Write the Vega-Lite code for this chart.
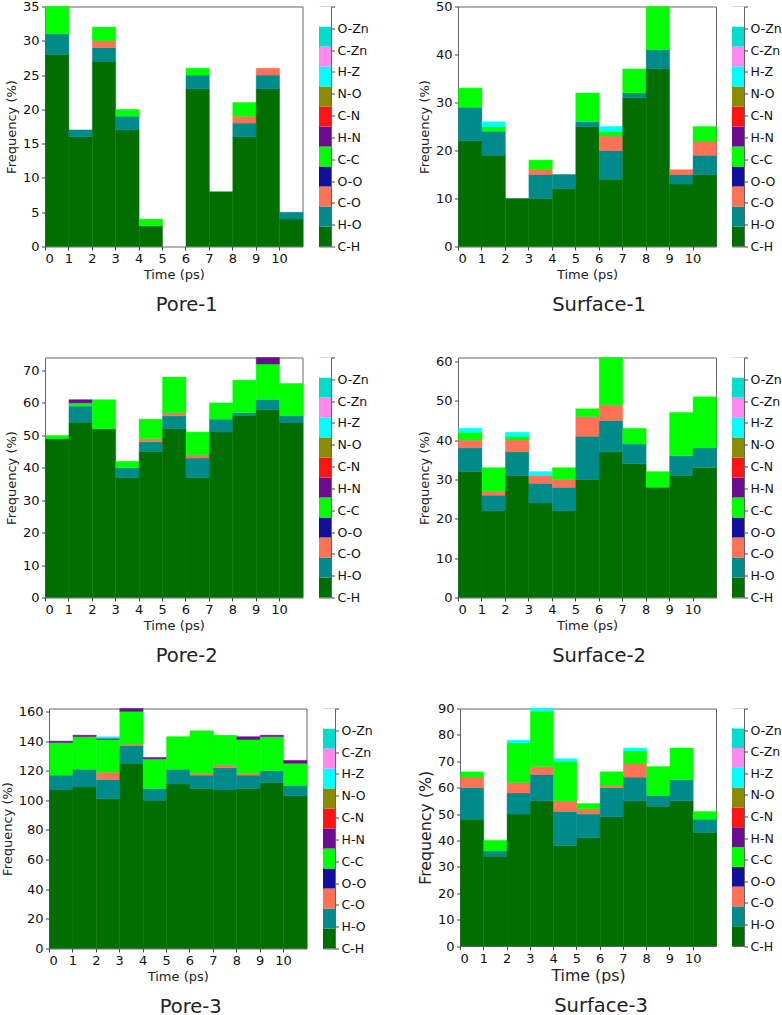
{
  "$schema": "https://vega.github.io/schema/vega-lite/v6.json",
  "background": "white",
  "padding": {"left": 0, "top": -0.5, "right": 0, "bottom": 0},
  "config": {
    "font": "DejaVu Sans",
    "view": {"stroke": "#666666", "strokeWidth": 1},
    "axis": {"grid": false, "domain": false, "tickColor": "#444444", "tickSize": 3.5, "labelFontSize": 13, "titleFontSize": 13, "labelColor": "#111111", "titleColor": "#222222", "titleFontWeight": "normal", "labelPadding": 2.5, "labelFont": "DejaVu Sans", "titleFont": "DejaVu Sans"},
    "bar": {"binSpacing": 0, "stroke": {"expr": "scale('color', datum.bond)"}, "strokeWidth": 0.4}
  },
  "datasets": {
    "bonds": [
      {"bond": "C-H"}, {"bond": "H-O"}, {"bond": "C-O"}, {"bond": "O-O"}, {"bond": "C-C"}, {"bond": "H-N"},
      {"bond": "C-N"}, {"bond": "N-O"}, {"bond": "H-Z"}, {"bond": "C-Zn"}, {"bond": "O-Zn"}, {"bond": " "}
    ],
    "pore1": [
      {"t":0,"t_end":1,"bond":"C-H","k":0,"n":28},{"t":0,"t_end":1,"bond":"H-O","k":1,"n":3},{"t":0,"t_end":1,"bond":"C-C","k":4,"n":4},
      {"t":1,"t_end":2,"bond":"C-H","k":0,"n":16},{"t":1,"t_end":2,"bond":"H-O","k":1,"n":1},
      {"t":2,"t_end":3,"bond":"C-H","k":0,"n":27},{"t":2,"t_end":3,"bond":"H-O","k":1,"n":2},{"t":2,"t_end":3,"bond":"C-O","k":2,"n":1},{"t":2,"t_end":3,"bond":"C-C","k":4,"n":2},
      {"t":3,"t_end":4,"bond":"C-H","k":0,"n":17},{"t":3,"t_end":4,"bond":"H-O","k":1,"n":2},{"t":3,"t_end":4,"bond":"C-C","k":4,"n":1},
      {"t":4,"t_end":5,"bond":"C-H","k":0,"n":3},{"t":4,"t_end":5,"bond":"C-C","k":4,"n":1},
      {"t":6,"t_end":7,"bond":"C-H","k":0,"n":23},{"t":6,"t_end":7,"bond":"H-O","k":1,"n":2},{"t":6,"t_end":7,"bond":"C-C","k":4,"n":1},
      {"t":7,"t_end":8,"bond":"C-H","k":0,"n":8},
      {"t":8,"t_end":9,"bond":"C-H","k":0,"n":16},{"t":8,"t_end":9,"bond":"H-O","k":1,"n":2},{"t":8,"t_end":9,"bond":"C-O","k":2,"n":1},{"t":8,"t_end":9,"bond":"C-C","k":4,"n":2},
      {"t":9,"t_end":10,"bond":"C-H","k":0,"n":23},{"t":9,"t_end":10,"bond":"H-O","k":1,"n":2},{"t":9,"t_end":10,"bond":"C-O","k":2,"n":1},
      {"t":10,"t_end":11,"bond":"C-H","k":0,"n":4},{"t":10,"t_end":11,"bond":"H-O","k":1,"n":1}
    ],
    "surface1": [
      {"t":0,"t_end":1,"bond":"C-H","k":0,"n":22},{"t":0,"t_end":1,"bond":"H-O","k":1,"n":7},{"t":0,"t_end":1,"bond":"C-C","k":4,"n":4},
      {"t":1,"t_end":2,"bond":"C-H","k":0,"n":19},{"t":1,"t_end":2,"bond":"H-O","k":1,"n":5},{"t":1,"t_end":2,"bond":"C-C","k":4,"n":1},{"t":1,"t_end":2,"bond":"H-Z","k":8,"n":1},
      {"t":2,"t_end":3,"bond":"C-H","k":0,"n":10},
      {"t":3,"t_end":4,"bond":"C-H","k":0,"n":10},{"t":3,"t_end":4,"bond":"H-O","k":1,"n":5},{"t":3,"t_end":4,"bond":"C-O","k":2,"n":1},{"t":3,"t_end":4,"bond":"C-C","k":4,"n":2},
      {"t":4,"t_end":5,"bond":"C-H","k":0,"n":12},{"t":4,"t_end":5,"bond":"H-O","k":1,"n":3},
      {"t":5,"t_end":6,"bond":"C-H","k":0,"n":25},{"t":5,"t_end":6,"bond":"H-O","k":1,"n":1},{"t":5,"t_end":6,"bond":"C-C","k":4,"n":6},
      {"t":6,"t_end":7,"bond":"C-H","k":0,"n":14},{"t":6,"t_end":7,"bond":"H-O","k":1,"n":6},{"t":6,"t_end":7,"bond":"C-O","k":2,"n":3},{"t":6,"t_end":7,"bond":"C-C","k":4,"n":1},{"t":6,"t_end":7,"bond":"H-Z","k":8,"n":1},
      {"t":7,"t_end":8,"bond":"C-H","k":0,"n":31},{"t":7,"t_end":8,"bond":"H-O","k":1,"n":1},{"t":7,"t_end":8,"bond":"C-C","k":4,"n":5},
      {"t":8,"t_end":9,"bond":"C-H","k":0,"n":37},{"t":8,"t_end":9,"bond":"H-O","k":1,"n":4},{"t":8,"t_end":9,"bond":"C-C","k":4,"n":9},
      {"t":9,"t_end":10,"bond":"C-H","k":0,"n":13},{"t":9,"t_end":10,"bond":"H-O","k":1,"n":2},{"t":9,"t_end":10,"bond":"C-O","k":2,"n":1},
      {"t":10,"t_end":11,"bond":"C-H","k":0,"n":15},{"t":10,"t_end":11,"bond":"H-O","k":1,"n":4},{"t":10,"t_end":11,"bond":"C-O","k":2,"n":3},{"t":10,"t_end":11,"bond":"C-C","k":4,"n":3}
    ],
    "pore2": [
      {"t":0,"t_end":1,"bond":"C-H","k":0,"n":49},{"t":0,"t_end":1,"bond":"C-C","k":4,"n":1},
      {"t":1,"t_end":2,"bond":"C-H","k":0,"n":54},{"t":1,"t_end":2,"bond":"H-O","k":1,"n":5},{"t":1,"t_end":2,"bond":"C-C","k":4,"n":1},{"t":1,"t_end":2,"bond":"H-N","k":5,"n":1},
      {"t":2,"t_end":3,"bond":"C-H","k":0,"n":52},{"t":2,"t_end":3,"bond":"C-C","k":4,"n":9},
      {"t":3,"t_end":4,"bond":"C-H","k":0,"n":37},{"t":3,"t_end":4,"bond":"H-O","k":1,"n":3},{"t":3,"t_end":4,"bond":"C-C","k":4,"n":2},
      {"t":4,"t_end":5,"bond":"C-H","k":0,"n":45},{"t":4,"t_end":5,"bond":"H-O","k":1,"n":3},{"t":4,"t_end":5,"bond":"C-O","k":2,"n":1},{"t":4,"t_end":5,"bond":"C-C","k":4,"n":6},
      {"t":5,"t_end":6,"bond":"C-H","k":0,"n":52},{"t":5,"t_end":6,"bond":"H-O","k":1,"n":4},{"t":5,"t_end":6,"bond":"C-O","k":2,"n":1},{"t":5,"t_end":6,"bond":"C-C","k":4,"n":11},
      {"t":6,"t_end":7,"bond":"C-H","k":0,"n":37},{"t":6,"t_end":7,"bond":"H-O","k":1,"n":6},{"t":6,"t_end":7,"bond":"C-O","k":2,"n":1},{"t":6,"t_end":7,"bond":"C-C","k":4,"n":7},
      {"t":7,"t_end":8,"bond":"C-H","k":0,"n":51},{"t":7,"t_end":8,"bond":"H-O","k":1,"n":4},{"t":7,"t_end":8,"bond":"C-C","k":4,"n":5},
      {"t":8,"t_end":9,"bond":"C-H","k":0,"n":56},{"t":8,"t_end":9,"bond":"H-O","k":1,"n":1},{"t":8,"t_end":9,"bond":"C-C","k":4,"n":10},
      {"t":9,"t_end":10,"bond":"C-H","k":0,"n":58},{"t":9,"t_end":10,"bond":"H-O","k":1,"n":3},{"t":9,"t_end":10,"bond":"C-C","k":4,"n":11},{"t":9,"t_end":10,"bond":"H-N","k":5,"n":2},
      {"t":10,"t_end":11,"bond":"C-H","k":0,"n":54},{"t":10,"t_end":11,"bond":"H-O","k":1,"n":2},{"t":10,"t_end":11,"bond":"C-C","k":4,"n":10}
    ],
    "surface2": [
      {"t":0,"t_end":1,"bond":"C-H","k":0,"n":32},{"t":0,"t_end":1,"bond":"H-O","k":1,"n":6},{"t":0,"t_end":1,"bond":"C-O","k":2,"n":2},{"t":0,"t_end":1,"bond":"C-C","k":4,"n":2},{"t":0,"t_end":1,"bond":"H-Z","k":8,"n":1},
      {"t":1,"t_end":2,"bond":"C-H","k":0,"n":22},{"t":1,"t_end":2,"bond":"H-O","k":1,"n":4},{"t":1,"t_end":2,"bond":"C-O","k":2,"n":1},{"t":1,"t_end":2,"bond":"C-C","k":4,"n":6},
      {"t":2,"t_end":3,"bond":"C-H","k":0,"n":31},{"t":2,"t_end":3,"bond":"H-O","k":1,"n":6},{"t":2,"t_end":3,"bond":"C-O","k":2,"n":3},{"t":2,"t_end":3,"bond":"C-C","k":4,"n":1},{"t":2,"t_end":3,"bond":"H-Z","k":8,"n":1},
      {"t":3,"t_end":4,"bond":"C-H","k":0,"n":24},{"t":3,"t_end":4,"bond":"H-O","k":1,"n":5},{"t":3,"t_end":4,"bond":"C-O","k":2,"n":2},{"t":3,"t_end":4,"bond":"H-Z","k":8,"n":1},
      {"t":4,"t_end":5,"bond":"C-H","k":0,"n":22},{"t":4,"t_end":5,"bond":"H-O","k":1,"n":6},{"t":4,"t_end":5,"bond":"C-O","k":2,"n":2},{"t":4,"t_end":5,"bond":"C-C","k":4,"n":3},
      {"t":5,"t_end":6,"bond":"C-H","k":0,"n":30},{"t":5,"t_end":6,"bond":"H-O","k":1,"n":11},{"t":5,"t_end":6,"bond":"C-O","k":2,"n":5},{"t":5,"t_end":6,"bond":"C-C","k":4,"n":2},
      {"t":6,"t_end":7,"bond":"C-H","k":0,"n":37},{"t":6,"t_end":7,"bond":"H-O","k":1,"n":8},{"t":6,"t_end":7,"bond":"C-O","k":2,"n":4},{"t":6,"t_end":7,"bond":"C-C","k":4,"n":12},
      {"t":7,"t_end":8,"bond":"C-H","k":0,"n":34},{"t":7,"t_end":8,"bond":"H-O","k":1,"n":5},{"t":7,"t_end":8,"bond":"C-C","k":4,"n":4},
      {"t":8,"t_end":9,"bond":"C-H","k":0,"n":28},{"t":8,"t_end":9,"bond":"C-C","k":4,"n":4},
      {"t":9,"t_end":10,"bond":"C-H","k":0,"n":31},{"t":9,"t_end":10,"bond":"H-O","k":1,"n":5},{"t":9,"t_end":10,"bond":"C-C","k":4,"n":11},
      {"t":10,"t_end":11,"bond":"C-H","k":0,"n":33},{"t":10,"t_end":11,"bond":"H-O","k":1,"n":5},{"t":10,"t_end":11,"bond":"C-C","k":4,"n":13}
    ],
    "pore3": [
      {"t":0,"t_end":1,"bond":"C-H","k":0,"n":107},{"t":0,"t_end":1,"bond":"H-O","k":1,"n":10},{"t":0,"t_end":1,"bond":"C-C","k":4,"n":22},{"t":0,"t_end":1,"bond":"H-N","k":5,"n":1},
      {"t":1,"t_end":2,"bond":"C-H","k":0,"n":109},{"t":1,"t_end":2,"bond":"H-O","k":1,"n":12},{"t":1,"t_end":2,"bond":"C-C","k":4,"n":22},{"t":1,"t_end":2,"bond":"H-N","k":5,"n":1},
      {"t":2,"t_end":3,"bond":"C-H","k":0,"n":101},{"t":2,"t_end":3,"bond":"H-O","k":1,"n":13},{"t":2,"t_end":3,"bond":"C-O","k":2,"n":5},{"t":2,"t_end":3,"bond":"C-C","k":4,"n":22},{"t":2,"t_end":3,"bond":"H-N","k":5,"n":1},{"t":2,"t_end":3,"bond":"H-Z","k":8,"n":1},
      {"t":3,"t_end":4,"bond":"C-H","k":0,"n":125},{"t":3,"t_end":4,"bond":"H-O","k":1,"n":12},{"t":3,"t_end":4,"bond":"C-O","k":2,"n":1},{"t":3,"t_end":4,"bond":"C-C","k":4,"n":22},{"t":3,"t_end":4,"bond":"H-N","k":5,"n":2},
      {"t":4,"t_end":5,"bond":"C-H","k":0,"n":100},{"t":4,"t_end":5,"bond":"H-O","k":1,"n":8},{"t":4,"t_end":5,"bond":"C-C","k":4,"n":20},{"t":4,"t_end":5,"bond":"H-N","k":5,"n":1},
      {"t":5,"t_end":6,"bond":"C-H","k":0,"n":111},{"t":5,"t_end":6,"bond":"H-O","k":1,"n":10},{"t":5,"t_end":6,"bond":"C-C","k":4,"n":22},
      {"t":6,"t_end":7,"bond":"C-H","k":0,"n":108},{"t":6,"t_end":7,"bond":"H-O","k":1,"n":9},{"t":6,"t_end":7,"bond":"C-O","k":2,"n":1},{"t":6,"t_end":7,"bond":"C-C","k":4,"n":29},
      {"t":7,"t_end":8,"bond":"C-H","k":0,"n":107},{"t":7,"t_end":8,"bond":"H-O","k":1,"n":15},{"t":7,"t_end":8,"bond":"C-O","k":2,"n":2},{"t":7,"t_end":8,"bond":"C-C","k":4,"n":20},
      {"t":8,"t_end":9,"bond":"C-H","k":0,"n":108},{"t":8,"t_end":9,"bond":"H-O","k":1,"n":9},{"t":8,"t_end":9,"bond":"C-O","k":2,"n":1},{"t":8,"t_end":9,"bond":"C-C","k":4,"n":23},{"t":8,"t_end":9,"bond":"H-N","k":5,"n":2},
      {"t":9,"t_end":10,"bond":"C-H","k":0,"n":112},{"t":9,"t_end":10,"bond":"H-O","k":1,"n":8},{"t":9,"t_end":10,"bond":"C-C","k":4,"n":23},{"t":9,"t_end":10,"bond":"H-N","k":5,"n":1},
      {"t":10,"t_end":11,"bond":"C-H","k":0,"n":103},{"t":10,"t_end":11,"bond":"H-O","k":1,"n":7},{"t":10,"t_end":11,"bond":"C-C","k":4,"n":15},{"t":10,"t_end":11,"bond":"H-N","k":5,"n":2}
    ],
    "surface3": [
      {"t":0,"t_end":1,"bond":"C-H","k":0,"n":48},{"t":0,"t_end":1,"bond":"H-O","k":1,"n":12},{"t":0,"t_end":1,"bond":"C-O","k":2,"n":4},{"t":0,"t_end":1,"bond":"C-C","k":4,"n":2},
      {"t":1,"t_end":2,"bond":"C-H","k":0,"n":34},{"t":1,"t_end":2,"bond":"H-O","k":1,"n":2},{"t":1,"t_end":2,"bond":"C-C","k":4,"n":4},
      {"t":2,"t_end":3,"bond":"C-H","k":0,"n":50},{"t":2,"t_end":3,"bond":"H-O","k":1,"n":8},{"t":2,"t_end":3,"bond":"C-O","k":2,"n":4},{"t":2,"t_end":3,"bond":"C-C","k":4,"n":15},{"t":2,"t_end":3,"bond":"H-Z","k":8,"n":1},
      {"t":3,"t_end":4,"bond":"C-H","k":0,"n":55},{"t":3,"t_end":4,"bond":"H-O","k":1,"n":10},{"t":3,"t_end":4,"bond":"C-O","k":2,"n":3},{"t":3,"t_end":4,"bond":"C-C","k":4,"n":21},{"t":3,"t_end":4,"bond":"H-Z","k":8,"n":1},
      {"t":4,"t_end":5,"bond":"C-H","k":0,"n":38},{"t":4,"t_end":5,"bond":"H-O","k":1,"n":13},{"t":4,"t_end":5,"bond":"C-O","k":2,"n":4},{"t":4,"t_end":5,"bond":"C-C","k":4,"n":15},{"t":4,"t_end":5,"bond":"H-Z","k":8,"n":1},
      {"t":5,"t_end":6,"bond":"C-H","k":0,"n":41},{"t":5,"t_end":6,"bond":"H-O","k":1,"n":9},{"t":5,"t_end":6,"bond":"C-O","k":2,"n":2},{"t":5,"t_end":6,"bond":"C-C","k":4,"n":2},
      {"t":6,"t_end":7,"bond":"C-H","k":0,"n":49},{"t":6,"t_end":7,"bond":"H-O","k":1,"n":11},{"t":6,"t_end":7,"bond":"C-O","k":2,"n":1},{"t":6,"t_end":7,"bond":"C-C","k":4,"n":5},
      {"t":7,"t_end":8,"bond":"C-H","k":0,"n":55},{"t":7,"t_end":8,"bond":"H-O","k":1,"n":9},{"t":7,"t_end":8,"bond":"C-O","k":2,"n":5},{"t":7,"t_end":8,"bond":"C-C","k":4,"n":5},{"t":7,"t_end":8,"bond":"H-Z","k":8,"n":1},
      {"t":8,"t_end":9,"bond":"C-H","k":0,"n":53},{"t":8,"t_end":9,"bond":"H-O","k":1,"n":4},{"t":8,"t_end":9,"bond":"C-C","k":4,"n":11},
      {"t":9,"t_end":10,"bond":"C-H","k":0,"n":55},{"t":9,"t_end":10,"bond":"H-O","k":1,"n":8},{"t":9,"t_end":10,"bond":"C-C","k":4,"n":12},
      {"t":10,"t_end":11,"bond":"C-H","k":0,"n":43},{"t":10,"t_end":11,"bond":"H-O","k":1,"n":5},{"t":10,"t_end":11,"bond":"C-C","k":4,"n":3}
    ]
  },
  "spacing": 24,
  "vconcat": [
    {
      "bounds": "flush",
      "spacing": 16,
      "hconcat": [
        {"width": 29, "height": 320, "view": {"stroke": null}, "data": {"values": []}, "mark": {"type": "rect", "opacity": 0}, "encoding": {}},
        {
          "width": 257.5, "height": 240,
          "title": {"text": "Pore-1", "orient": "bottom", "fontSize": 19.5, "fontWeight": "normal", "font": "DejaVu Sans", "color": "#222222", "offset": 14, "dx": 13},
          "data": {"name": "pore1"},
          "mark": {"type": "bar"},
          "encoding": {
            "x": {"field": "t", "type": "quantitative", "bin": "binned", "scale": {"domain": [0, 11], "nice": false}, "axis": {"values": [0,1,2,3,4,5,6,7,8,9,10], "title": "Time (ps)", "titlePadding": 3}},
            "x2": {"field": "t_end"},
            "y": {"field": "n", "type": "quantitative", "stack": "zero", "scale": {"domain": [0, 35], "nice": false}, "axis": {"values": [0,5,10,15,20,25,30,35], "title": "Frequency (%)", "titlePadding": 4}},
            "order": {"field": "k"},
            "color": {"field": "bond", "type": "nominal", "legend": null, "scale": {"domain": ["C-H","H-O","C-O","O-O","C-C","H-N","C-N","N-O","H-Z","C-Zn","O-Zn"," "], "range": ["#006e00","#008b8b","#ff7256","#10109a","#00ff00","#6a0d91","#ff1414","#8b8b00","#00ffff","#ff88ee","#00ddcc","#ffffff"]}}
          }
        },
        {
          "width": 12, "height": 240,
          "data": {"name": "bonds"},
          "layer": [
            {"mark": {"type": "rect"}, "encoding": {
              "y": {"field": "bond", "type": "ordinal", "scale": {"type": "band", "domain": [" ","O-Zn","C-Zn","H-Z","N-O","C-N","H-N","C-C","O-O","C-O","H-O","C-H"], "paddingInner": 0, "paddingOuter": 0}, "axis": null},
              "color": {"field": "bond", "type": "nominal", "legend": null, "scale": {"domain": ["C-H","H-O","C-O","O-O","C-C","H-N","C-N","N-O","H-Z","C-Zn","O-Zn"," "], "range": ["#006e00","#008b8b","#ff7256","#10109a","#00ff00","#6a0d91","#ff1414","#8b8b00","#00ffff","#ff88ee","#00ddcc","#ffffff"]}}
            }},
            {"mark": {"type": "point", "opacity": 0}, "encoding": {
              "y": {"field": "bond", "type": "ordinal", "scale": {"type": "point", "domain": [" ","O-Zn","C-Zn","H-Z","N-O","C-N","H-N","C-C","O-O","C-O","H-O","C-H"], "padding": 0}, "axis": {"orient": "right", "title": null, "labelFontSize": 12.5, "labelAngle": 0}}
            }}
          ],
          "resolve": {"scale": {"y": "independent"}}
        },
        {"width": 94.5, "height": 240, "view": {"stroke": null}, "data": {"values": []}, "mark": {"type": "rect", "opacity": 0}, "encoding": {}},
        {
          "width": 258, "height": 240,
          "title": {"text": "Surface-1", "orient": "bottom", "fontSize": 19.5, "fontWeight": "normal", "font": "DejaVu Sans", "color": "#222222", "offset": 14, "dx": 12},
          "data": {"name": "surface1"},
          "mark": {"type": "bar"},
          "encoding": {
            "x": {"field": "t", "type": "quantitative", "bin": "binned", "scale": {"domain": [0, 11], "nice": false}, "axis": {"values": [0,1,2,3,4,5,6,7,8,9,10], "title": "Time (ps)", "titlePadding": 3}},
            "x2": {"field": "t_end"},
            "y": {"field": "n", "type": "quantitative", "stack": "zero", "scale": {"domain": [0, 50], "nice": false}, "axis": {"values": [0,10,20,30,40,50], "title": "Frequency (%)", "titlePadding": 4}},
            "order": {"field": "k"},
            "color": {"field": "bond", "type": "nominal", "legend": null, "scale": {"domain": ["C-H","H-O","C-O","O-O","C-C","H-N","C-N","N-O","H-Z","C-Zn","O-Zn"," "], "range": ["#006e00","#008b8b","#ff7256","#10109a","#00ff00","#6a0d91","#ff1414","#8b8b00","#00ffff","#ff88ee","#00ddcc","#ffffff"]}}
          }
        },
        {
          "width": 12, "height": 240,
          "data": {"name": "bonds"},
          "layer": [
            {"mark": {"type": "rect"}, "encoding": {
              "y": {"field": "bond", "type": "ordinal", "scale": {"type": "band", "domain": [" ","O-Zn","C-Zn","H-Z","N-O","C-N","H-N","C-C","O-O","C-O","H-O","C-H"], "paddingInner": 0, "paddingOuter": 0}, "axis": null},
              "color": {"field": "bond", "type": "nominal", "legend": null, "scale": {"domain": ["C-H","H-O","C-O","O-O","C-C","H-N","C-N","N-O","H-Z","C-Zn","O-Zn"," "], "range": ["#006e00","#008b8b","#ff7256","#10109a","#00ff00","#6a0d91","#ff1414","#8b8b00","#00ffff","#ff88ee","#00ddcc","#ffffff"]}}
            }},
            {"mark": {"type": "point", "opacity": 0}, "encoding": {
              "y": {"field": "bond", "type": "ordinal", "scale": {"type": "point", "domain": [" ","O-Zn","C-Zn","H-Z","N-O","C-N","H-N","C-C","O-O","C-O","H-O","C-H"], "padding": 0}, "axis": {"orient": "right", "title": null, "labelFontSize": 12.5, "labelAngle": 0}}
            }}
          ],
          "resolve": {"scale": {"y": "independent"}}
        }
      ]
    },
    {
      "bounds": "flush",
      "spacing": 16,
      "hconcat": [
        {"width": 29, "height": 320, "view": {"stroke": null}, "data": {"values": []}, "mark": {"type": "rect", "opacity": 0}, "encoding": {}},
        {
          "width": 257.5, "height": 240,
          "title": {"text": "Pore-2", "orient": "bottom", "fontSize": 19.5, "fontWeight": "normal", "font": "DejaVu Sans", "color": "#222222", "offset": 14, "dx": 13},
          "data": {"name": "pore2"},
          "mark": {"type": "bar"},
          "encoding": {
            "x": {"field": "t", "type": "quantitative", "bin": "binned", "scale": {"domain": [0, 11], "nice": false}, "axis": {"values": [0,1,2,3,4,5,6,7,8,9,10], "title": "Time (ps)", "titlePadding": 3}},
            "x2": {"field": "t_end"},
            "y": {"field": "n", "type": "quantitative", "stack": "zero", "scale": {"domain": [0, 74], "nice": false}, "axis": {"values": [0,10,20,30,40,50,60,70], "title": "Frequency (%)", "titlePadding": 4}},
            "order": {"field": "k"},
            "color": {"field": "bond", "type": "nominal", "legend": null, "scale": {"domain": ["C-H","H-O","C-O","O-O","C-C","H-N","C-N","N-O","H-Z","C-Zn","O-Zn"," "], "range": ["#006e00","#008b8b","#ff7256","#10109a","#00ff00","#6a0d91","#ff1414","#8b8b00","#00ffff","#ff88ee","#00ddcc","#ffffff"]}}
          }
        },
        {
          "width": 12, "height": 240,
          "data": {"name": "bonds"},
          "layer": [
            {"mark": {"type": "rect"}, "encoding": {
              "y": {"field": "bond", "type": "ordinal", "scale": {"type": "band", "domain": [" ","O-Zn","C-Zn","H-Z","N-O","C-N","H-N","C-C","O-O","C-O","H-O","C-H"], "paddingInner": 0, "paddingOuter": 0}, "axis": null},
              "color": {"field": "bond", "type": "nominal", "legend": null, "scale": {"domain": ["C-H","H-O","C-O","O-O","C-C","H-N","C-N","N-O","H-Z","C-Zn","O-Zn"," "], "range": ["#006e00","#008b8b","#ff7256","#10109a","#00ff00","#6a0d91","#ff1414","#8b8b00","#00ffff","#ff88ee","#00ddcc","#ffffff"]}}
            }},
            {"mark": {"type": "point", "opacity": 0}, "encoding": {
              "y": {"field": "bond", "type": "ordinal", "scale": {"type": "point", "domain": [" ","O-Zn","C-Zn","H-Z","N-O","C-N","H-N","C-C","O-O","C-O","H-O","C-H"], "padding": 0}, "axis": {"orient": "right", "title": null, "labelFontSize": 12.5, "labelAngle": 0}}
            }}
          ],
          "resolve": {"scale": {"y": "independent"}}
        },
        {"width": 94.5, "height": 240, "view": {"stroke": null}, "data": {"values": []}, "mark": {"type": "rect", "opacity": 0}, "encoding": {}},
        {
          "width": 258, "height": 240,
          "title": {"text": "Surface-2", "orient": "bottom", "fontSize": 19.5, "fontWeight": "normal", "font": "DejaVu Sans", "color": "#222222", "offset": 14, "dx": 12},
          "data": {"name": "surface2"},
          "mark": {"type": "bar"},
          "encoding": {
            "x": {"field": "t", "type": "quantitative", "bin": "binned", "scale": {"domain": [0, 11], "nice": false}, "axis": {"values": [0,1,2,3,4,5,6,7,8,9,10], "title": "Time (ps)", "titlePadding": 3}},
            "x2": {"field": "t_end"},
            "y": {"field": "n", "type": "quantitative", "stack": "zero", "scale": {"domain": [0, 61], "nice": false}, "axis": {"values": [0,10,20,30,40,50,60], "title": "Frequency (%)", "titlePadding": 4}},
            "order": {"field": "k"},
            "color": {"field": "bond", "type": "nominal", "legend": null, "scale": {"domain": ["C-H","H-O","C-O","O-O","C-C","H-N","C-N","N-O","H-Z","C-Zn","O-Zn"," "], "range": ["#006e00","#008b8b","#ff7256","#10109a","#00ff00","#6a0d91","#ff1414","#8b8b00","#00ffff","#ff88ee","#00ddcc","#ffffff"]}}
          }
        },
        {
          "width": 12, "height": 240,
          "data": {"name": "bonds"},
          "layer": [
            {"mark": {"type": "rect"}, "encoding": {
              "y": {"field": "bond", "type": "ordinal", "scale": {"type": "band", "domain": [" ","O-Zn","C-Zn","H-Z","N-O","C-N","H-N","C-C","O-O","C-O","H-O","C-H"], "paddingInner": 0, "paddingOuter": 0}, "axis": null},
              "color": {"field": "bond", "type": "nominal", "legend": null, "scale": {"domain": ["C-H","H-O","C-O","O-O","C-C","H-N","C-N","N-O","H-Z","C-Zn","O-Zn"," "], "range": ["#006e00","#008b8b","#ff7256","#10109a","#00ff00","#6a0d91","#ff1414","#8b8b00","#00ffff","#ff88ee","#00ddcc","#ffffff"]}}
            }},
            {"mark": {"type": "point", "opacity": 0}, "encoding": {
              "y": {"field": "bond", "type": "ordinal", "scale": {"type": "point", "domain": [" ","O-Zn","C-Zn","H-Z","N-O","C-N","H-N","C-C","O-O","C-O","H-O","C-H"], "padding": 0}, "axis": {"orient": "right", "title": null, "labelFontSize": 12.5, "labelAngle": 0}}
            }}
          ],
          "resolve": {"scale": {"y": "independent"}}
        }
      ]
    },
    {
      "bounds": "flush",
      "spacing": 16,
      "hconcat": [
        {"width": 33, "height": 300, "view": {"stroke": null}, "data": {"values": []}, "mark": {"type": "rect", "opacity": 0}, "encoding": {}},
        {
          "width": 257.5, "height": 240,
          "title": {"text": "Pore-3", "orient": "bottom", "fontSize": 19.5, "fontWeight": "normal", "font": "DejaVu Sans", "color": "#222222", "offset": 14, "dx": 13},
          "data": {"name": "pore3"},
          "mark": {"type": "bar"},
          "encoding": {
            "x": {"field": "t", "type": "quantitative", "bin": "binned", "scale": {"domain": [0, 11], "nice": false}, "axis": {"values": [0,1,2,3,4,5,6,7,8,9,10], "title": "Time (ps)", "titlePadding": 3}},
            "x2": {"field": "t_end"},
            "y": {"field": "n", "type": "quantitative", "stack": "zero", "scale": {"domain": [0, 162], "nice": false}, "axis": {"values": [0,20,40,60,80,100,120,140,160], "title": "Frequency (%)", "titlePadding": 4}},
            "order": {"field": "k"},
            "color": {"field": "bond", "type": "nominal", "legend": null, "scale": {"domain": ["C-H","H-O","C-O","O-O","C-C","H-N","C-N","N-O","H-Z","C-Zn","O-Zn"," "], "range": ["#006e00","#008b8b","#ff7256","#10109a","#00ff00","#6a0d91","#ff1414","#8b8b00","#00ffff","#ff88ee","#00ddcc","#ffffff"]}}
          }
        },
        {
          "width": 12, "height": 240,
          "data": {"name": "bonds"},
          "layer": [
            {"mark": {"type": "rect"}, "encoding": {
              "y": {"field": "bond", "type": "ordinal", "scale": {"type": "band", "domain": [" ","O-Zn","C-Zn","H-Z","N-O","C-N","H-N","C-C","O-O","C-O","H-O","C-H"], "paddingInner": 0, "paddingOuter": 0}, "axis": null},
              "color": {"field": "bond", "type": "nominal", "legend": null, "scale": {"domain": ["C-H","H-O","C-O","O-O","C-C","H-N","C-N","N-O","H-Z","C-Zn","O-Zn"," "], "range": ["#006e00","#008b8b","#ff7256","#10109a","#00ff00","#6a0d91","#ff1414","#8b8b00","#00ffff","#ff88ee","#00ddcc","#ffffff"]}}
            }},
            {"mark": {"type": "point", "opacity": 0}, "encoding": {
              "y": {"field": "bond", "type": "ordinal", "scale": {"type": "point", "domain": [" ","O-Zn","C-Zn","H-Z","N-O","C-N","H-N","C-C","O-O","C-O","H-O","C-H"], "padding": 0}, "axis": {"orient": "right", "title": null, "labelFontSize": 12.5, "labelAngle": 0}}
            }}
          ],
          "resolve": {"scale": {"y": "independent"}}
        },
        {"width": 92.5, "height": 240, "view": {"stroke": null}, "data": {"values": []}, "mark": {"type": "rect", "opacity": 0}, "encoding": {}},
        {
          "width": 256, "height": 237.5,
          "title": {"text": "Surface-3", "orient": "bottom", "fontSize": 19.5, "fontWeight": "normal", "font": "DejaVu Sans", "color": "#222222", "offset": 14, "dx": 13},
          "data": {"name": "surface3"},
          "mark": {"type": "bar"},
          "encoding": {
            "x": {"field": "t", "type": "quantitative", "bin": "binned", "scale": {"domain": [0, 11], "nice": false}, "axis": {"values": [0,1,2,3,4,5,6,7,8,9,10], "title": "Time (ps)", "titlePadding": 3, "titleFontSize": 15.8}},
            "x2": {"field": "t_end"},
            "y": {"field": "n", "type": "quantitative", "stack": "zero", "scale": {"domain": [0, 90], "nice": false}, "axis": {"values": [0,10,20,30,40,50,60,70,80,90], "title": "Frequency (%)", "titlePadding": 4, "titleFontSize": 15.8}},
            "order": {"field": "k"},
            "color": {"field": "bond", "type": "nominal", "legend": null, "scale": {"domain": ["C-H","H-O","C-O","O-O","C-C","H-N","C-N","N-O","H-Z","C-Zn","O-Zn"," "], "range": ["#006e00","#008b8b","#ff7256","#10109a","#00ff00","#6a0d91","#ff1414","#8b8b00","#00ffff","#ff88ee","#00ddcc","#ffffff"]}}
          }
        },
        {
          "width": 12, "height": 237.5,
          "data": {"name": "bonds"},
          "layer": [
            {"mark": {"type": "rect"}, "encoding": {
              "y": {"field": "bond", "type": "ordinal", "scale": {"type": "band", "domain": [" ","O-Zn","C-Zn","H-Z","N-O","C-N","H-N","C-C","O-O","C-O","H-O","C-H"], "paddingInner": 0, "paddingOuter": 0}, "axis": null},
              "color": {"field": "bond", "type": "nominal", "legend": null, "scale": {"domain": ["C-H","H-O","C-O","O-O","C-C","H-N","C-N","N-O","H-Z","C-Zn","O-Zn"," "], "range": ["#006e00","#008b8b","#ff7256","#10109a","#00ff00","#6a0d91","#ff1414","#8b8b00","#00ffff","#ff88ee","#00ddcc","#ffffff"]}}
            }},
            {"mark": {"type": "point", "opacity": 0}, "encoding": {
              "y": {"field": "bond", "type": "ordinal", "scale": {"type": "point", "domain": [" ","O-Zn","C-Zn","H-Z","N-O","C-N","H-N","C-C","O-O","C-O","H-O","C-H"], "padding": 0}, "axis": {"orient": "right", "title": null, "labelFontSize": 12.5, "labelAngle": 0}}
            }}
          ],
          "resolve": {"scale": {"y": "independent"}}
        }
      ]
    }
  ]
}
